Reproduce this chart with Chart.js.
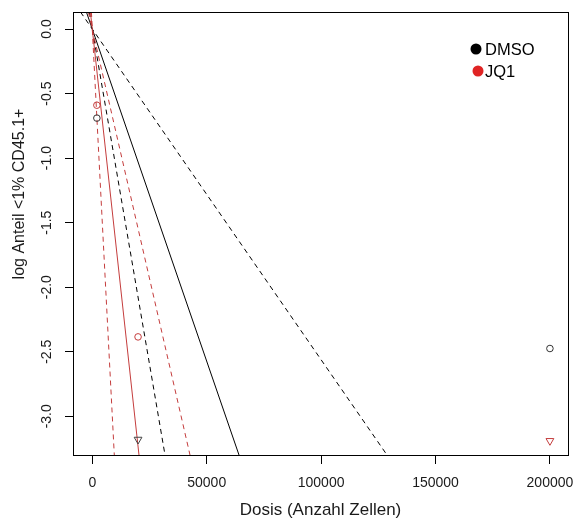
<!DOCTYPE html>
<html>
<head>
<meta charset="utf-8">
<script src="https://cdn.jsdelivr.net/npm/chart.js@4.4.1/dist/chart.umd.min.js"></script>
<style>
  html, body { margin: 0; padding: 0; background: #fff; }
  #wrap { width: 575px; height: 520px; }
</style>
</head>
<body>
<div id="wrap"><canvas id="elda"></canvas></div>
<script>
// observed log fraction of negative wells per dose
const dmsoDose = [2000, 200000];
const dmsoLog = [-0.69, -2.475];
const dmsoZeroDose = [20000];   // no negatives -> triangle
const dmsoZeroLog = [-3.18];
const jq1Dose = [2000, 20000];
const jq1Log = [-0.59, -2.385];
const jq1ZeroDose = [200000];
const jq1ZeroLog = [-3.19];

// 1/frequency (cells per log unit): lower CI, estimate, upper CI
const dmsoCells = [9630, 19430, 39030];
const jq1Cells = [2915, 6185, 12940];

const xTicks = [0, 50000, 100000, 150000, 200000];
const yTicks = [0, -0.5, -1, -1.5, -2, -2.5, -3];
const yTickLabels = ["0.0", "-0.5", "-1.0", "-1.5", "-2.0", "-2.5", "-3.0"];

const legendNames = ["DMSO", "JQ1"];
const xTitle = "Dosis (Anzahl Zellen)";
const yTitle = "log Anteil <1% CD45.1+";

const X_MIN = -8430, X_MAX = 207900;
const Y_MIN = -3.30, Y_MAX = 0.132;

const FONT = "'Liberation Sans', Arial, sans-serif";
const RED = "#c43c3c";

const pts = (xs, ys) => xs.map((x, i) => ({ x: x, y: ys[i] }));
// straight line log(frac) = -dose / cells, across the whole y range
const fitLine = (cells) => [
  { x: -Y_MAX * cells, y: Y_MAX },
  { x: -Y_MIN * cells, y: Y_MIN }
];

const lineSet = (cells, color, dashed) => ({
  data: fitLine(cells),
  showLine: true,
  borderColor: color,
  borderWidth: 1,
  borderDash: dashed ? [5, 4] : [],
  pointRadius: 0,
  fill: false
});

const pointSet = (xs, ys, color, style) => ({
  data: pts(xs, ys),
  showLine: false,
  pointStyle: style,
  pointRotation: style === "triangle" ? 180 : 0,
  pointRadius: style === "triangle" ? 4.5 : 3.3,
  pointBorderWidth: 1,
  pointBorderColor: color,
  pointBackgroundColor: "rgba(0,0,0,0)"
});

const frame = {
  id: "frame",
  afterDraw(chart) {
    const ctx = chart.ctx;
    const a = chart.chartArea;
    const ys = chart.scales.y;
    ctx.save();
    ctx.strokeStyle = "#000";
    ctx.lineWidth = 1;
    ctx.strokeRect(Math.round(a.left) + 0.5, Math.round(a.top) + 0.5,
      Math.round(a.right - a.left), Math.round(a.bottom - a.top));

    // rotated y tick labels, R style
    ctx.fillStyle = "#1a1a1a";
    ctx.font = "14px " + FONT;
    ctx.textAlign = "center";
    ctx.textBaseline = "middle";
    yTicks.forEach((v, i) => {
      ctx.save();
      ctx.translate(47, ys.getPixelForValue(v));
      ctx.rotate(-Math.PI / 2);
      ctx.fillText(yTickLabels[i], 0, 0);
      ctx.restore();
    });

    // axis titles
    ctx.font = "16px " + FONT;
    ctx.save();
    ctx.translate(20, 194);
    ctx.rotate(-Math.PI / 2);
    ctx.fillText(yTitle, 0, 0);
    ctx.restore();
    ctx.font = "17px " + FONT;
    ctx.fillText(xTitle, (a.left + a.right) / 2, 510);

    // legend
    const legColors = ["#000", "#e02424"];
    const legY = [49, 71];
    const legX = [476, 478];
    ctx.font = "16.5px " + FONT;
    ctx.textAlign = "left";
    legendNames.forEach((n, i) => {
      ctx.fillStyle = legColors[i];
      ctx.beginPath();
      ctx.arc(legX[i], legY[i], 5.5, 0, Math.PI * 2);
      ctx.fill();
      ctx.fillStyle = "#000";
      ctx.fillText(n, 485, legY[i] + 1);
    });
    ctx.restore();
  }
};

new Chart(document.getElementById("elda"), {
  type: "scatter",
  data: {
    datasets: [
      pointSet(dmsoDose, dmsoLog, "#333", "circle"),
      pointSet(dmsoZeroDose, dmsoZeroLog, "#444", "triangle"),
      pointSet(jq1Dose, jq1Log, RED, "circle"),
      pointSet(jq1ZeroDose, jq1ZeroLog, RED, "triangle"),
      lineSet(jq1Cells[1], RED, false),
      lineSet(jq1Cells[0], RED, true),
      lineSet(jq1Cells[2], RED, true),
      lineSet(dmsoCells[1], "#000", false),
      lineSet(dmsoCells[0], "#000", true),
      lineSet(dmsoCells[2], "#000", true)
    ]
  },
  options: {
    responsive: true,
    maintainAspectRatio: false,
    animation: false,
    events: [],
    layout: { padding: { top: 12, right: 7, left: 0, bottom: 0 } },
    plugins: {
      legend: { display: false },
      tooltip: { enabled: false }
    },
    scales: {
      x: {
        type: "linear",
        min: X_MIN,
        max: X_MAX,
        afterBuildTicks: (s) => { s.ticks = xTicks.map((v) => ({ value: v })); },
        afterFit: (s) => {
          s.height = 65;
          s.paddingLeft = 0;
          s.paddingRight = 0;
        },
        border: { display: false },
        grid: { drawOnChartArea: false, drawTicks: true, tickLength: 9, color: "#000" },
        ticks: {
          padding: 11,
          color: "#1a1a1a",
          font: { family: FONT, size: 14 },
          maxRotation: 0,
          callback: (v) => String(v)
        }
      },
      y: {
        type: "linear",
        min: Y_MIN,
        max: Y_MAX,
        afterBuildTicks: (s) => { s.ticks = yTicks.map((v) => ({ value: v })); },
        afterFit: (s) => {
          s.width = 73;
          s.paddingTop = 0;
          s.paddingBottom = 0;
        },
        border: { display: false },
        grid: { drawOnChartArea: false, drawTicks: true, tickLength: 8, color: "#000" },
        ticks: { display: false }
      }
    }
  },
  plugins: [frame]
});
</script>
</body>
</html>
